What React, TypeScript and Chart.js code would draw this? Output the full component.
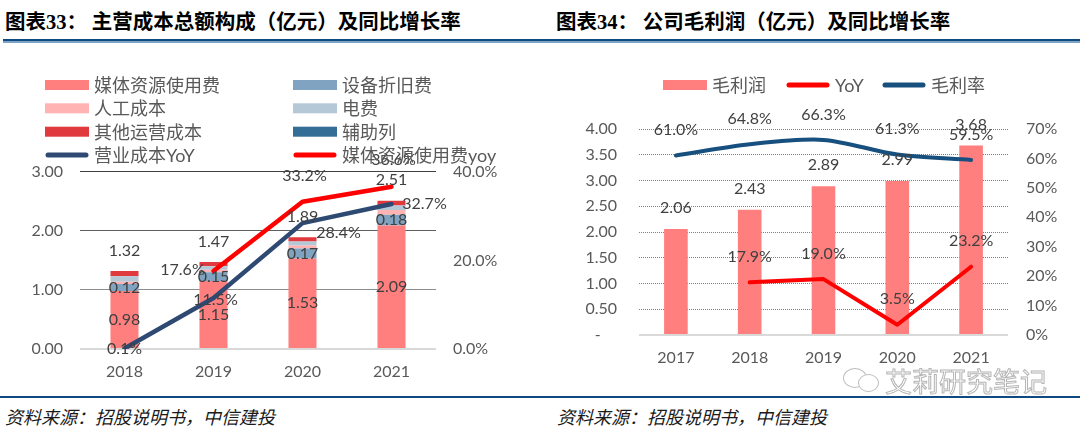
import React, { useEffect, useRef } from 'react';
import { Chart, registerables } from 'chart.js';

Chart.register(...registerables);

// ---------- 图表33 data ----------
const YEARS_33 = ['2018', '2019', '2020', '2021'];
const MEDIA_FEE = [0.98, 1.15, 1.53, 2.09];
const EQUIP_DEPR = [0.12, 0.15, 0.17, 0.18];
const LABOR = [0.04, 0.04, 0.05, 0.08];
const ELECTRICITY = [0.09, 0.06, 0.07, 0.08];
const OTHER_OPS = [0.09, 0.07, 0.07, 0.08];
const TOTAL_COST = [1.32, 1.47, 1.89, 2.51];
const COST_YOY = [0.1, 11.5, 28.4, 32.7];
const MEDIA_YOY = [null, 17.6, 33.2, 36.6];

// ---------- 图表34 data ----------
const YEARS_34 = ['2017', '2018', '2019', '2020', '2021'];
const GROSS_PROFIT = [2.06, 2.43, 2.89, 2.99, 3.68];
const GP_YOY = [null, 17.9, 19.0, 3.5, 23.2];
const GROSS_MARGIN = [61.0, 64.8, 66.3, 61.3, 59.5];

const FONT = 'Lato, "Noto Sans CJK SC", sans-serif';
const CJK = '"Noto Sans CJK SC", sans-serif';
const NAVY33 = '#2F4A72';
const NAVY34 = '#17507E';
const RED = '#FF0000';
const PINK = '#FF7F7F';

Chart.defaults.font.family = FONT;
Chart.defaults.font.size = 16;
Chart.defaults.color = '#595959';

const valueLabels = {
  id: 'valueLabels',
  afterDatasetsDraw(chart: any) {
    const ctx = chart.ctx;
    chart.data.datasets.forEach((ds: any, di: number) => {
      const cfg = ds.valueLabels;
      if (!cfg) return;
      const meta = chart.getDatasetMeta(di);
      ctx.save();
      ctx.font = `16px ${FONT}`;
      ctx.fillStyle = '#404040';
      ctx.textAlign = 'center';
      ctx.textBaseline = 'middle';
      meta.data.forEach((el: any, i: number) => {
        const v = ds.data[i];
        if (v == null) return;
        let x = el.x;
        let y = el.y;
        if (cfg.mode === 'center') y = (el.y + el.base) / 2;
        const off = cfg.offsets ? cfg.offsets[i] : cfg.offset || [0, 0];
        ctx.fillText(cfg.format(v), x + off[0], y + off[1]);
      });
      ctx.restore();
    });
  },
};

const gridLegend = {
  id: 'gridLegend',
  afterDraw(chart: any, _args: any, opts: any) {
    if (!opts || !opts.items) return;
    const ctx = chart.ctx;
    ctx.save();
    ctx.font = `18px ${FONT}`;
    ctx.textBaseline = 'middle';
    ctx.textAlign = 'left';
    for (const it of opts.items) {
      const ds = chart.data.datasets[it.ds];
      if (it.kind === 'line') {
        ctx.strokeStyle = ds.borderColor;
        ctx.lineWidth = 5;
        ctx.lineCap = 'round';
        ctx.beginPath();
        ctx.moveTo(it.x + 3, it.y);
        ctx.lineTo(it.x + 41, it.y);
        ctx.stroke();
      } else {
        ctx.fillStyle = ds.backgroundColor;
        ctx.fillRect(it.x, it.y - 5, 44, 10);
      }
      ctx.fillStyle = '#595959';
      ctx.fillText(ds.label, it.x + 49, it.y + 1);
    }
    ctx.restore();
  },
};

const fmt2 = (v: number) => v.toFixed(2);
const fmtPct1 = (v: number) => v.toFixed(1) + '%';

function config33(): any {
  return {
    type: 'bar',
    data: {
      labels: YEARS_33,
      datasets: [
        {
          type: 'line', label: '营业成本YoY', data: COST_YOY, yAxisID: 'y1',
          borderColor: NAVY33, backgroundColor: NAVY33, borderWidth: 4.5, pointRadius: 0,
          borderCapStyle: 'round', borderJoinStyle: 'round', order: 1,
          valueLabels: { format: fmtPct1, offsets: [[0, 0], [2, 2], [36, 10], [33, 0]] },
        },
        {
          type: 'line', label: '媒体资源使用费yoy', data: MEDIA_YOY, yAxisID: 'y1',
          borderColor: RED, backgroundColor: RED, borderWidth: 4.5, pointRadius: 0,
          borderCapStyle: 'round', borderJoinStyle: 'round', order: 1,
          valueLabels: { format: fmtPct1, offsets: [[0, 0], [-31, -1], [2, -26], [2, -27]] },
        },
        { label: '媒体资源使用费', data: MEDIA_FEE, backgroundColor: PINK, order: 2, valueLabels: { mode: 'center', format: fmt2 } },
        { label: '设备折旧费', data: EQUIP_DEPR, backgroundColor: '#7FA3C0', order: 2, valueLabels: { mode: 'center', format: fmt2 } },
        { label: '人工成本', data: LABOR, backgroundColor: '#FFB3B3', order: 2 },
        { label: '电费', data: ELECTRICITY, backgroundColor: '#B4C8D8', order: 2 },
        { label: '其他运营成本', data: OTHER_OPS, backgroundColor: '#E0393E', order: 2 },
        {
          type: 'line', label: '辅助列', data: TOTAL_COST, yAxisID: 'yTot', showLine: false,
          pointRadius: 0, borderColor: '#346E96', backgroundColor: '#346E96', order: 0,
          valueLabels: { format: fmt2, offset: [0, -20.5] },
        },
      ],
    },
    options: {
      responsive: false,
      animation: false,
      events: [],
      datasets: { bar: { categoryPercentage: 1, barPercentage: 0.315, borderWidth: 0 } },
      layout: { padding: { top: 121.7, left: 0, right: 0, bottom: 0 } },
      plugins: {
        legend: { display: false },
        tooltip: { enabled: false },
        gridLegend: {
          items: [
            { ds: 2, x: 45, y: 35 }, { ds: 3, x: 293, y: 35 },
            { ds: 4, x: 45, y: 58.3 }, { ds: 5, x: 293, y: 58.3 },
            { ds: 6, x: 45, y: 81.7 }, { ds: 7, x: 293, y: 81.7 },
            { ds: 0, x: 45, y: 105, kind: 'line' }, { ds: 1, x: 293, y: 105, kind: 'line' },
          ],
        },
      },
      scales: {
        x: {
          stacked: true,
          grid: { display: false, drawTicks: false },
          border: { display: false },
          ticks: { padding: 13.5, color: '#595959' },
          afterFit: (s: any) => { s.height = 41; },
        },
        y: {
          stacked: true, min: 0, max: 3,
          ticks: { stepSize: 1, padding: 17, color: '#595959', callback: (v: any) => Number(v).toFixed(2) },
          grid: {
            drawTicks: false,
            color: (c: any) => {
              const v = c.tick ? c.tick.value : -1;
              return v === 0 ? '#d9d9d9' : v === 3 ? '#404040' : v === 2 ? '#5f5f5f' : '#8c8c8c';
            },
            lineWidth: (c: any) => (c.tick && c.tick.value === 0 ? 2 : 1),
          },
          border: { display: false },
          afterFit: (s: any) => { s.width = 80; },
        },
        y1: {
          position: 'right', min: 0, max: 40,
          ticks: { stepSize: 20, padding: 17, color: '#595959', callback: (v: any) => Number(v).toFixed(1) + '%' },
          grid: { display: false, drawTicks: false },
          border: { display: false },
          afterFit: (s: any) => { s.width = 104; },
        },
        yTot: { display: false, min: 0, max: 3 },
      },
    },
    plugins: [valueLabels, gridLegend],
  };
}

function config34(): any {
  return {
    type: 'bar',
    data: {
      labels: YEARS_34,
      datasets: [
        {
          label: '毛利润', data: GROSS_PROFIT, backgroundColor: PINK, order: 2,
          valueLabels: { format: fmt2, offset: [0, -21] },
        },
        {
          type: 'line', label: 'YoY', data: GP_YOY, yAxisID: 'y1',
          borderColor: RED, backgroundColor: RED, borderWidth: 4, pointRadius: 0,
          borderCapStyle: 'round', borderJoinStyle: 'round', order: 1,
          valueLabels: { format: fmtPct1, offset: [0, -25.5] },
        },
        {
          type: 'line', label: '毛利率', data: GROSS_MARGIN, yAxisID: 'y1',
          borderColor: NAVY34, backgroundColor: NAVY34, borderWidth: 4, pointRadius: 0,
          tension: 0.3, borderCapStyle: 'round', borderJoinStyle: 'round', order: 1,
          valueLabels: { format: fmtPct1, offset: [0, -25.5] },
        },
      ],
    },
    options: {
      responsive: false,
      animation: false,
      events: [],
      datasets: { bar: { categoryPercentage: 1, barPercentage: 0.32, borderWidth: 0 } },
      layout: { padding: { top: 79, left: 0, right: 0, bottom: 0 } },
      plugins: {
        legend: { display: false },
        tooltip: { enabled: false },
        gridLegend: {
          items: [
            { ds: 0, x: 123, y: 35 },
            { ds: 1, x: 246, y: 35, kind: 'line' },
            { ds: 2, x: 342, y: 35, kind: 'line' },
          ],
        },
      },
      scales: {
        x: {
          grid: { display: false, drawTicks: false },
          border: { display: false },
          ticks: { padding: 13.5, color: '#595959' },
          afterFit: (s: any) => { s.height = 55; },
        },
        y: {
          min: 0, max: 4,
          ticks: {
            stepSize: 0.5, padding: 22, color: '#595959',
            callback: (v: any) => (Number(v) === 0 ? '-    ' : Number(v).toFixed(2)),
          },
          grid: {
            drawTicks: false,
            color: (c: any) => (c.tick && c.tick.value === 0 ? '#d9d9d9' : '#7f7f7f'),
            lineWidth: (c: any) => (c.tick && c.tick.value === 0 ? 2 : 1),
          },
          border: {
            display: false,
            dash: (c: any) => (c.tick && c.tick.value !== 0 ? [1, 1] : []),
          },
          afterFit: (s: any) => { s.width = 99; },
        },
        y1: {
          position: 'right', min: 0, max: 70,
          ticks: { stepSize: 10, padding: 18, color: '#595959', callback: (v: any) => Math.round(Number(v)) + '%' },
          grid: { display: false, drawTicks: false },
          border: { display: false },
          afterFit: (s: any) => { s.width = 72; },
        },
      },
    },
    plugins: [valueLabels, gridLegend],
  };
}

const titleStyle: React.CSSProperties = {
  position: 'absolute', top: 8, fontFamily: CJK, fontWeight: 700, fontSize: 20.5,
  lineHeight: '24px', color: '#000', whiteSpace: 'nowrap',
};
const sourceStyle: React.CSSProperties = {
  position: 'absolute', top: 405, fontFamily: CJK, fontStyle: 'italic', fontSize: 18,
  lineHeight: '22px', color: '#1a1a1a', whiteSpace: 'nowrap',
};
const serif: React.CSSProperties = { fontFamily: '"Liberation Serif", serif' };

export default function App() {
  const ref33 = useRef<HTMLCanvasElement>(null);
  const ref34 = useRef<HTMLCanvasElement>(null);

  useEffect(() => {
    const c1 = new Chart(ref33.current as HTMLCanvasElement, config33());
    const c2 = new Chart(ref34.current as HTMLCanvasElement, config34());
    return () => {
      c1.destroy();
      c2.destroy();
    };
  }, []);

  return (
    <div style={{ position: 'fixed', left: 0, top: 0, width: 1080, height: 432, background: '#fff', overflow: 'hidden' }}>
      <div style={{ ...titleStyle, left: 5 }}>
        图表<span style={serif}>33</span>： 主营成本总额构成（亿元）及同比增长率
      </div>
      <div style={{ ...titleStyle, left: 556 }}>
        图表<span style={serif}>34</span>： 公司毛利润（亿元）及同比增长率
      </div>
      <div style={{ position: 'absolute', left: 3, top: 39, width: 1077, height: 2, background: '#0E4A7F' }} />
      <div style={{ position: 'absolute', left: 3, top: 41, width: 1077, height: 1.5, background: '#7FA3C6' }} />

      <canvas ref={ref33} width={540} height={340} style={{ position: 'absolute', left: 0, top: 50, width: 540, height: 340 }} />
      <canvas ref={ref34} width={540} height={340} style={{ position: 'absolute', left: 540, top: 50, width: 540, height: 340 }} />

      <div style={{ position: 'absolute', left: 843, top: 368, width: 22, height: 18, border: '1.5px solid #bdbdbd', borderRadius: '50%', background: '#fff' }} />
      <div style={{ position: 'absolute', left: 858, top: 374, width: 19, height: 16, border: '1.5px solid #bdbdbd', borderRadius: '50%', background: '#fff' }} />
      <div style={{
        position: 'absolute', left: 885, top: 365, fontFamily: CJK, fontSize: 27, lineHeight: '32px',
        color: '#ffffff', WebkitTextStroke: '1px #b5b5b5', whiteSpace: 'nowrap',
      } as React.CSSProperties}>
        艾莉研究笔记
      </div>

      <div style={{ position: 'absolute', left: 0, top: 396, width: 1080, height: 2, background: '#0E4A7F' }} />
      <div style={{ ...sourceStyle, left: 5 }}>资料来源：招股说明书，中信建投</div>
      <div style={{ ...sourceStyle, left: 557 }}>资料来源：招股说明书，中信建投</div>
    </div>
  );
}
